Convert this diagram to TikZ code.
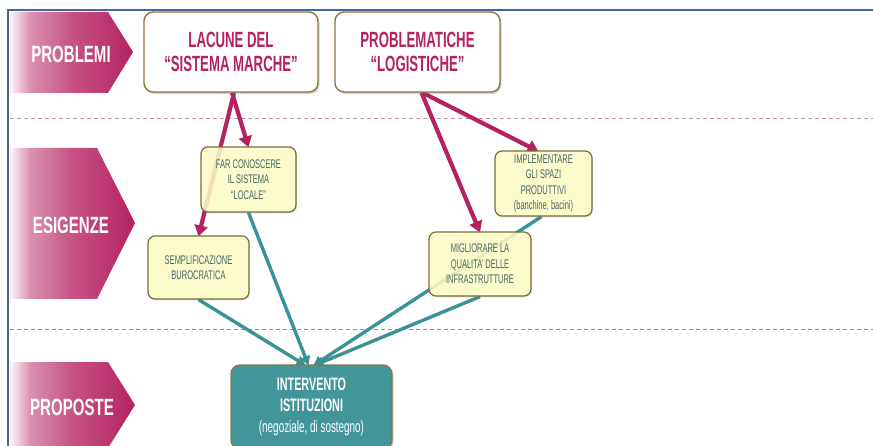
\documentclass[tikz,border=0pt]{standalone}
\usepackage{fontspec}
\newfontfamily\cond[FakeStretch=0.6]{Liberation Sans}
\newfontfamily\condL[FakeStretch=0.64]{Liberation Sans}
\usetikzlibrary{shadows,arrows.meta,backgrounds}

\definecolor{mag}{RGB}{181,34,97}
\definecolor{tealc}{RGB}{58,146,150}
\definecolor{tealbox}{RGB}{66,150,155}
\definecolor{goldb}{RGB}{140,118,60}
\definecolor{oliveb}{RGB}{118,108,58}
\definecolor{yell}{RGB}{255,255,200}
\definecolor{slate}{RGB}{72,100,100}
\definecolor{framec}{RGB}{70,102,150}
\definecolor{dashtop}{RGB}{184,146,166}
\definecolor{dashbot}{RGB}{112,160,164}

% fade from pale pink on the left to full magenta at the tip
\pgfdeclarehorizontalshading{labshade}{100bp}{color(0bp)=(mag!4); color(25bp)=(mag!4); color(33bp)=(mag!50); color(50bp)=(mag!78); color(75bp)=(mag); color(100bp)=(mag)}

\tikzset{
  labtext/.style={text=white, font={\condL\bfseries\fontsize{23.5}{27}\selectfont}},
  labarrow/.style={shading=labshade, draw=none},
  probbox/.style={draw=goldb, line width=1.4pt, fill=white, rounded corners=9pt,
    align=center, text=mag, inner sep=0pt,
    font={\cond\bfseries\fontsize{22}{24.5}\selectfont},
    drop shadow={opacity=0.35, shadow xshift=1.5pt, shadow yshift=-2pt}},
  needbox/.style={draw=oliveb, line width=1.2pt, fill=yell, fill opacity=0.85,
    text opacity=1, rounded corners=7pt, align=center, text=slate, inner sep=0pt,
    font={\cond\fontsize{12.5}{15.5}\selectfont},
    drop shadow={opacity=0.2, shadow xshift=1.2pt, shadow yshift=-1.6pt}},
  propbox/.style={draw=goldb, line width=1.4pt, fill=tealbox, rounded corners=9pt,
    align=center, text=white, inner sep=0pt,
    font={\cond\bfseries\fontsize{18}{21}\selectfont},
    drop shadow={opacity=0.35, shadow xshift=1.5pt, shadow yshift=-2pt}},
  magline/.style={draw=mag, line width=4.2pt, -{Triangle[length=11pt,width=13pt]}},
  tealline/.style={draw=tealc, line width=3.4pt, -{Triangle[length=9pt,width=10pt]}},
}

\begin{document}
\begin{tikzpicture}[x=1pt,y=-1pt]
\useasboundingbox (0,0) rectangle (873,446);

% row labels
\shade[labarrow] (10,12) -- (108,12) -- (133,52) -- (108,93) -- (10,93) -- cycle;
\node[labtext] (lprob) at (71,54) {PROBLEMI};
\shade[labarrow] (10,148) -- (97,148) -- (135,223) -- (97,299) -- (10,299) -- cycle;
\node[labtext] (lesig) at (71,225) {ESIGENZE};
\shade[labarrow] (10,362) -- (108,362) -- (135,405) -- (108,448) -- (10,448) -- cycle;
\node[labtext] (lprop) at (72,407) {PROPOSTE};

% problems
\node[probbox, minimum width=174pt, minimum height=80pt] (lacune) at (231,52)
  {LACUNE DEL\\“SISTEMA MARCHE”};
\node[probbox, minimum width=165pt, minimum height=80pt] (logist) at (417.5,52)
  {PROBLEMATICHE\\“LOGISTICHE”};

% needs
\node[needbox, minimum width=95pt, minimum height=65pt] (farcon) at (248.5,179.5)
  {FAR CONOSCERE\\IL SISTEMA\\“LOCALE”};
\node[needbox, minimum width=101pt, minimum height=63pt] (sempl) at (198.5,267.5)
  {SEMPLIFICAZIONE\\BUROCRATICA};
\node[needbox, minimum width=97pt, minimum height=65pt] (impl) at (543.5,183.5)
  {IMPLEMENTARE\\GLI SPAZI\\PRODUTTIVI\\(banchine, bacini)};
\node[needbox, minimum width=102pt, minimum height=64pt] (migl) at (480,264)
  {MIGLIORARE LA\\QUALITA’ DELLE\\INFRASTRUTTURE};

% proposal
\node[propbox, minimum width=161pt, minimum height=84pt] (interv) at (311.5,407)
  {INTERVENTO\\ISTITUZIONI\\\mdseries\fontsize{16.5}{21}\selectfont (negoziale, di sostegno)};

\begin{scope}[on background layer]
  % frame and row separators
  \draw[framec, line width=2pt] (8,446) -- (8,10) -- (873,10);
  \draw[dashtop, line width=1pt, dash pattern=on 4pt off 3pt] (10,119) -- (873,119);
  \draw[dashbot, line width=1pt, dash pattern=on 4pt off 3pt] (10,330) -- (873,330);

  % problems -> needs
  \draw[magline] ([xshift=1pt]lacune.south) -- ([yshift=-1pt]farcon.north);
  \draw[magline] ([xshift=3pt]lacune.south) -- ([yshift=-1pt]sempl.north);
  \draw[magline] ([xshift=4pt]logist.south) -- ([yshift=-1pt]migl.north);
  \draw[magline] ([xshift=5pt]logist.south) -- ([xshift=-5pt,yshift=-1pt]impl.north);

  % needs -> proposal
  \draw[tealline] (sempl.south) -- ([xshift=-6pt,yshift=-1pt]interv.north);
  \draw[tealline] (farcon.south) -- ([xshift=-3pt,yshift=-1pt]interv.north);
  \draw[tealline] (migl.south) -- ([xshift=3pt,yshift=-1pt]interv.north);
  \draw[tealline] ([xshift=-2pt]impl.south) -- ([xshift=2pt,yshift=-1pt]interv.north);
\end{scope}
\end{tikzpicture}
\end{document}
